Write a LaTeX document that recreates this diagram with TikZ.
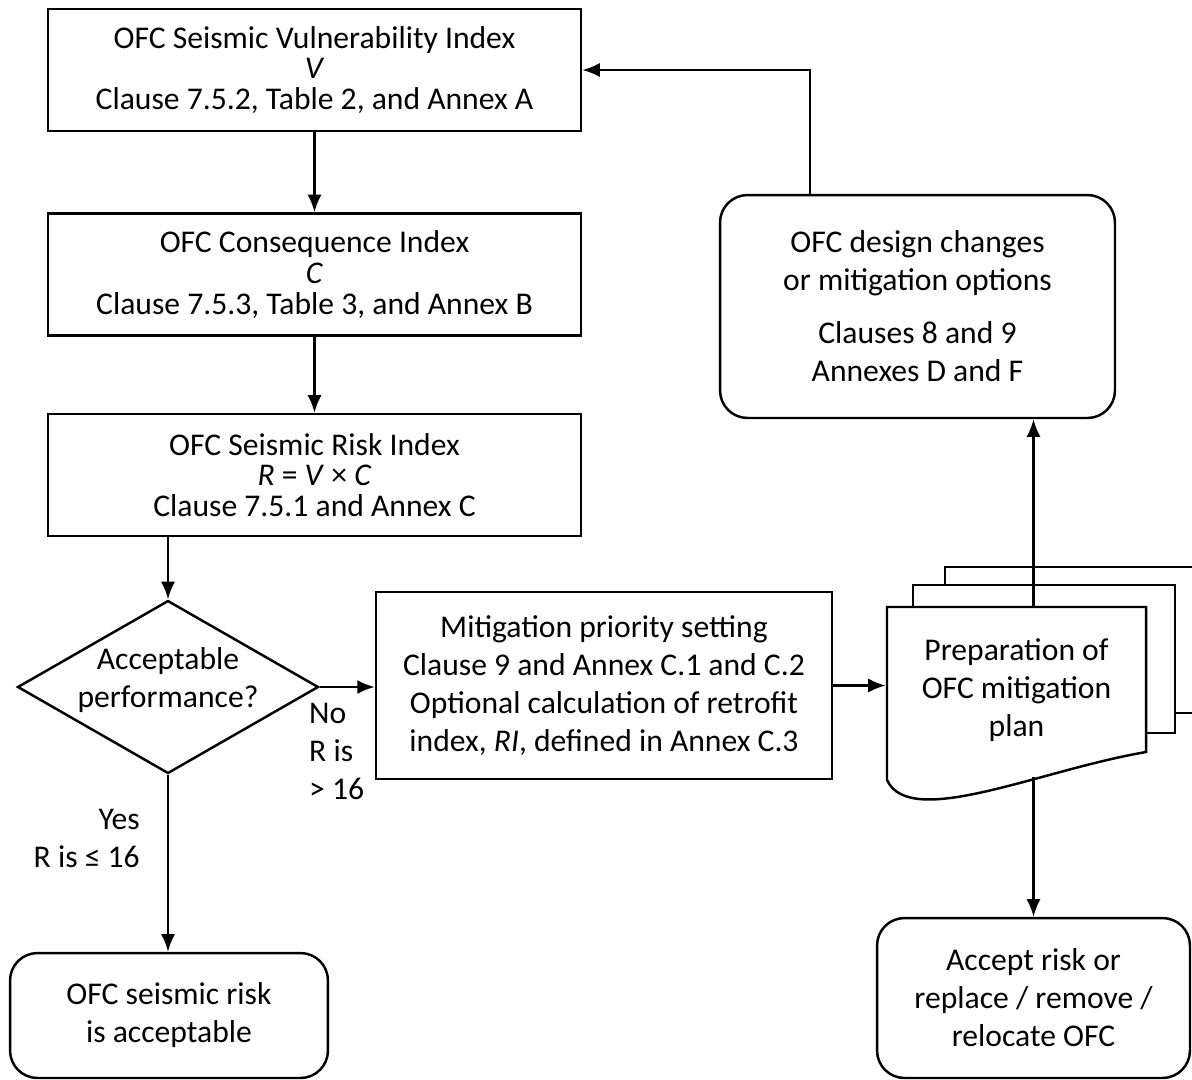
\documentclass[tikz,border=0pt]{standalone}
\usepackage{fontspec}
\setmainfont{Carlito}
\usetikzlibrary{shapes.geometric,arrows.meta}

\begin{document}
\begin{tikzpicture}[x=0.02cm, y=-0.02cm, line width=1.4pt]
\tikzset{ >={Latex[length=10pt,width=8pt]},
  every node/.style={font=\fontsize{18}{21.6}\selectfont, inner sep=0pt, align=center},
  indexbox/.style={draw, rectangle, minimum width=10.66cm, minimum height=2.44cm,
    font=\fontsize{18}{17.5}\selectfont},
  roundbox/.style={draw, rectangle, rounded corners=0.55cm},
}

\useasboundingbox (0,0) rectangle (1192,1079);

% index chain
\node [indexbox] (vbox) at (314.5,70)    {OFC Seismic Vulnerability Index\\ \textit{V}\\ Clause 7.5.2, Table 2, and Annex A};
\node [indexbox] (cbox) at (314.5,274.5) {OFC Consequence Index\\ \textit{C}\\ Clause 7.5.3, Table 3, and Annex B};
\node [indexbox] (rbox) at (314.5,475)   {OFC Seismic Risk Index\\ \textit{R} = \textit{V} × \textit{C}\\ Clause 7.5.1 and Annex C};

\node [draw, diamond, aspect=1.74, minimum width=6.02cm, minimum height=3.46cm] (dec) at (168,687) {};
\node (dectext) at (168,680) {Acceptable\\ performance?};

\node [draw, minimum width=9.12cm, minimum height=3.74cm] (mitig) at (604,685.5)
  {Mitigation priority setting\\ Clause 9 and Annex C.1 and C.2\\ Optional calculation of retrofit\\ index, \textit{RI}, defined in Annex C.3};

\node [roundbox, minimum width=6.36cm, minimum height=2.5cm]  (okbox)  at (169,1015.5) {OFC seismic risk\\ is acceptable};
\node [roundbox, minimum width=7.9cm,  minimum height=4.46cm] (design) at (917.5,306.5)
  {OFC design changes\\ or mitigation options\\[0.3cm] Clauses 8 and 9\\ Annexes D and F};
\node [roundbox, minimum width=6.26cm, minimum height=3.2cm]  (accept) at (1033.5,998) {Accept risk or\\ replace / remove /\\ relocate OFC};

% stacked documents
\filldraw [fill=white] (1192,567) -- (945,567) -- (945,713) -- (1192,713);
\filldraw [fill=white] (913,585) rectangle (1175,733);
\filldraw [fill=white] (887,607) -- (1146,607) -- (1146,752) .. controls (1040,770) and (910,830) .. (887,780) -- cycle;
\node [minimum width=5.18cm, minimum height=3.46cm] (prep) at (1016.5,690) {Preparation of\\ OFC mitigation\\ plan};
\coordinate (preptop) at (1033.5,607);
\coordinate (prepbot) at (1033.5,777);

\draw [->] (vbox) -- (cbox);
\draw [->] (cbox) -- (rbox);
\draw [->] (dec.north |- rbox.south) -- (dec.north);
\draw [->] (dec.east) -- (dec.east -| mitig.west);
\draw [->] (mitig.east) -- (mitig.east -| prep.west);
\draw [->] (preptop) -- (design.south -| preptop);
\draw [->] (prepbot) -- (accept.north);
\draw [->] ([xshift=-2.15cm]design.north) |- (vbox.east);
\draw [->] (dec.south) -- (dec.south |- okbox.north);

\node [anchor=north west, align=left]  (nolab)  at (308,702) {No\\ R is\\ > 16};
\node [anchor=north east, align=right] (yeslab) at (141,808) {Yes\\ R is ≤ 16};

\end{tikzpicture}
\end{document}
